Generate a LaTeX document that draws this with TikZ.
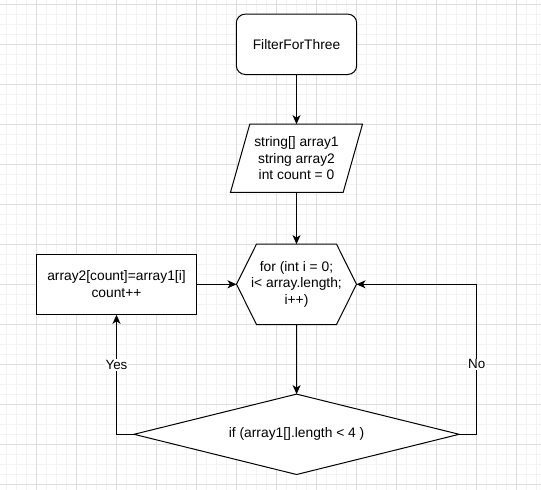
\documentclass[tikz,border=0pt]{standalone}
\usepackage{fontspec}
\setmainfont{Liberation Sans}
\usetikzlibrary{arrows.meta}
\definecolor{gridminor}{HTML}{F3F3F3}
\definecolor{gridmajor}{HTML}{DEDEDE}
\begin{document}
\begin{tikzpicture}[x=1pt,y=-1pt,
  lbl/.style={font=\fontsize{13.8}{16.7}\selectfont, align=center, inner sep=0pt},
  outline/.style={draw=black, line width=1pt, line join=miter},
  conn/.style={draw=black, line width=1pt, -{Stealth[length=9pt,width=8pt,inset=2.5pt]}},
  edgelbl/.style={font=\fontsize{13.4}{16}\selectfont, fill=white, inner sep=1pt}
]
\useasboundingbox (0,0) rectangle (541,490);
\fill[white] (0,0) rectangle (541,490);
% grid
\foreach \x in {0,...,53} \draw[gridminor, line width=1pt] (6.7+10*\x,0) -- (6.7+10*\x,490);
\foreach \y in {0,...,48} \draw[gridminor, line width=1pt] (0,4.3+10*\y) -- (541,4.3+10*\y);
\foreach \x in {0,...,12} \draw[gridmajor, line width=1pt] (36.7+40*\x,0) -- (36.7+40*\x,490);
\foreach \y in {0,...,12} \draw[gridmajor, line width=1pt] (0,4.3+40*\y) -- (541,4.3+40*\y);

% nodes
\node[lbl, minimum width=120pt, minimum height=60pt] (start) at (296.5,44.3) {};
\draw[outline, fill=white, rounded corners=9pt] (start.south west) rectangle (start.north east);
\node[lbl] (starttext) at (start.center) {FilterForThree};

\node[lbl, minimum width=131.6pt, minimum height=67.7pt] (inp) at (296.5,158.2) {};
\draw[outline, fill=white] ([xshift=19.3pt]inp.north west) -- (inp.north east) -- ([xshift=-19.3pt]inp.south east) -- (inp.south west) -- cycle;
\node[lbl] (inptext) at (inp.center) {string[] array1\\string array2\\int count = 0};

\node[lbl, minimum width=119.6pt, minimum height=80pt] (loop) at (296.5,284.3) {};
\draw[outline, fill=white] (loop.west) -- ([xshift=20pt]loop.north west) -- ([xshift=-20pt]loop.north east) -- (loop.east) -- ([xshift=-20pt]loop.south east) -- ([xshift=20pt]loop.south west) -- cycle;
\node[lbl] (looptext) at (loop.center) {for (int i = 0;\\i< array.length;\\i++)};

\node[lbl, draw, fill=white, line width=1pt, minimum width=160.4pt, minimum height=60pt] (act) at (116.5,284.3) {array2[count]=array1[i]\\count++};

\node[lbl, minimum width=324.7pt, minimum height=80pt] (cond) at (296.6,434.3) {};
\draw[outline, fill=white] (cond.west) -- (cond.north) -- (cond.east) -- (cond.south) -- cycle;
\node[lbl] (condtext) at (cond.center) {if (array1[].length < 4 )};

\coordinate (nocorner) at (476.7,434.3);

% connectors
\draw[conn] (start.south) -- (inp.north);
\draw[conn] (inp.south) -- (loop.north);
\draw[conn] (loop.south) -- (cond.north);
\draw[conn] (act.east) -- (loop.west);
\draw[conn] (cond.west) -| node[edgelbl, pos=0.79] {Yes} (act.south);
\draw[conn] (cond.east) -- (nocorner) |- node[edgelbl, pos=0.233] {No} (loop.east);
\end{tikzpicture}
\end{document}
